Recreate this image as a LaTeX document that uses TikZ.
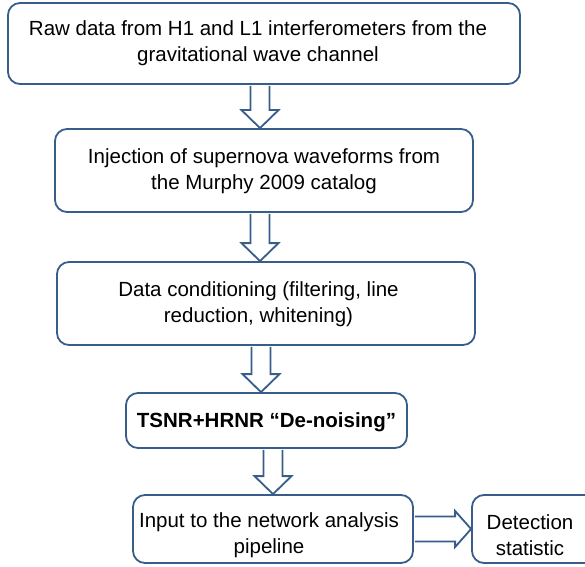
\documentclass[tikz,border=0pt]{standalone}
\usepackage{fontspec}
\setmainfont{Liberation Sans}
\usetikzlibrary{calc}
\definecolor{edge}{RGB}{56,93,138}
\tikzset{
  box/.style={draw=edge, line width=1.8pt, rounded corners=12pt, inner sep=0pt},
  txt/.style={inner sep=0pt, align=center, font=\fontsize{20.5}{26}\selectfont, text=black},
  fat/.style={draw=edge, line width=1.8pt, fill=white, line join=miter}
}
\newcommand\vfat[3]{%
  \draw[fat] let \p1=(#1.south), \p2=(#2.north) in
    (#3-9.5,\y1-0.9) -- (#3-9.5,\y2+18) -- (#3-18.5,\y2+18) -- (#3,\y2) --
    (#3+18.5,\y2+18) -- (#3+9.5,\y2+18) -- (#3+9.5,\y1-0.9);}
\begin{document}
\begin{tikzpicture}[x=1pt,y=1pt]
\useasboundingbox (0,0) rectangle (585,566);
\clip (0,0) rectangle (585,566);
\node[box, minimum width=512pt, minimum height=81pt,
  label={[txt, xshift=-6pt]center:{Raw data from H1 and L1 interferometers from the\\gravitational wave channel}}]
  (b1) at (264,522.5) {};
\node[box, minimum width=418pt, minimum height=83pt,
  label={[txt, yshift=-1pt]center:{Injection of supernova waveforms from\\the Murphy 2009 catalog}}]
  (b2) at (264,395.5) {};
\node[box, minimum width=418pt, minimum height=83pt,
  label={[txt, xshift=-7.5pt, yshift=-1pt]center:{Data conditioning (filtering, line\\reduction, whitening)}}]
  (b3) at (266,262.5) {};
\node[box, minimum width=281pt, minimum height=55pt,
  label={[txt, font=\fontsize{20.5}{26}\selectfont\bfseries, yshift=-2pt]center:{TSNR+HRNR “De-noising”}}]
  (b4) at (266.5,145.5) {};
\node[box, minimum width=280pt, minimum height=68pt,
  label={[txt, xshift=-4pt, yshift=-6pt]center:{Input to the network analysis\\pipeline}}]
  (b5) at (273,37) {};
\node[box, minimum width=126pt, minimum height=68pt,
  label={[txt, xshift=-5pt, yshift=-6pt]center:{Detection\\statistic}}]
  (b6) at (535,37) {};
\vfat{b1}{b2}{260}
\vfat{b2}{b3}{260}
\vfat{b3}{b4}{261}
\vfat{b4}{b5}{273}
\draw[fat] let \p1=(b5.east), \p2=(b6.west) in
  (\x1+0.9,37-12.5) -- (\x2-16,37-12.5) -- (\x2-16,37-18) -- (\x2,37) --
  (\x2-16,37+18) -- (\x2-16,37+12.5) -- (\x1+0.9,37+12.5);
\end{tikzpicture}
\end{document}
